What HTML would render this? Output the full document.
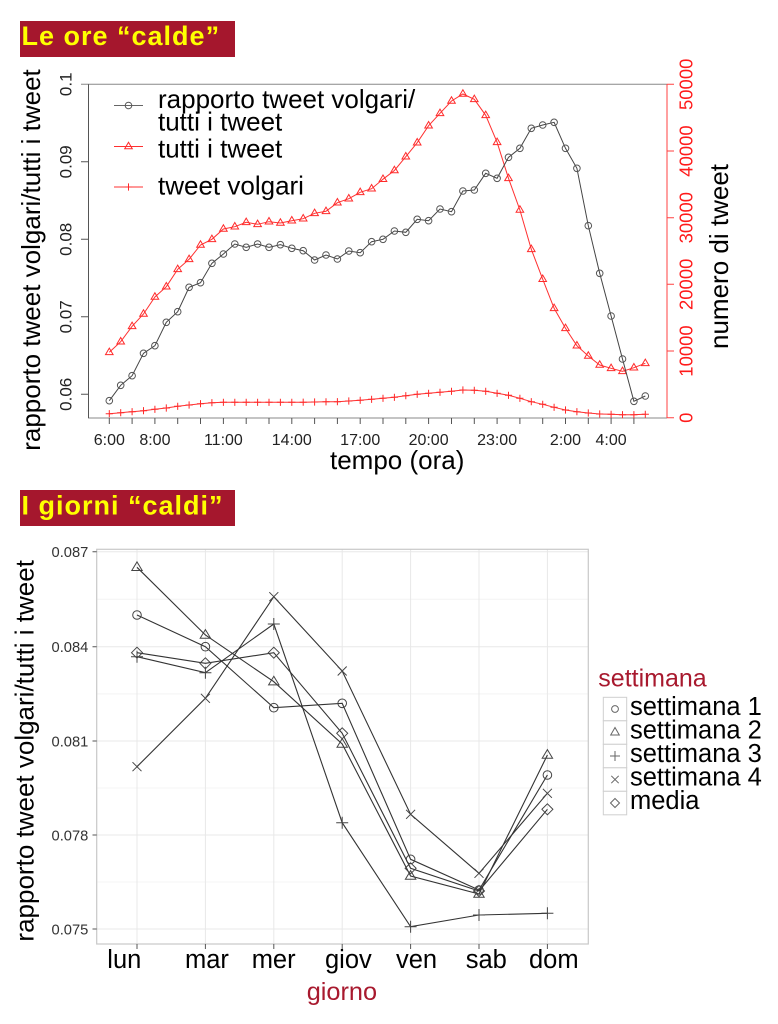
<!DOCTYPE html>
<html><head><meta charset="utf-8"><style>
html,body{margin:0;padding:0;background:#fff;}
svg{display:block;font-family:"Liberation Sans",Arial,sans-serif;}
</style></head><body>
<svg width="778" height="1024" viewBox="0 0 778 1024" xmlns="http://www.w3.org/2000/svg">
<defs>
<marker id="mc" markerWidth="12" markerHeight="12" refX="6" refY="6" markerUnits="userSpaceOnUse" overflow="visible"><circle cx="6" cy="6" r="3.3" fill="none" stroke="#555" stroke-width="1"/></marker>
<marker id="mt" markerWidth="12" markerHeight="12" refX="6" refY="6" markerUnits="userSpaceOnUse" overflow="visible"><path d="M6,1.8 L9.8,8.3 L2.2,8.3 Z" fill="none" stroke="#ff2a2a" stroke-width="1"/></marker>
<marker id="mp" markerWidth="12" markerHeight="12" refX="6" refY="6" markerUnits="userSpaceOnUse" overflow="visible"><path d="M2.4,6 H9.6 M6,2.4 V9.6" fill="none" stroke="#ff2a2a" stroke-width="1"/></marker>
<marker id="bc" markerWidth="14" markerHeight="14" refX="7" refY="7" markerUnits="userSpaceOnUse" overflow="visible"><circle cx="7" cy="7" r="4.3" fill="none" stroke="#444" stroke-width="1"/></marker>
<marker id="bt" markerWidth="14" markerHeight="14" refX="7" refY="7" markerUnits="userSpaceOnUse" overflow="visible"><path d="M7,1.6 L12.2,10.2 L1.8,10.2 Z" fill="none" stroke="#444" stroke-width="1"/></marker>
<marker id="bp" markerWidth="14" markerHeight="14" refX="7" refY="7" markerUnits="userSpaceOnUse" overflow="visible"><path d="M1,7 H13 M7,1 V13" fill="none" stroke="#444" stroke-width="1"/></marker>
<marker id="bx" markerWidth="14" markerHeight="14" refX="7" refY="7" markerUnits="userSpaceOnUse" overflow="visible"><path d="M2.5,2.5 L11.5,11.5 M11.5,2.5 L2.5,11.5" fill="none" stroke="#444" stroke-width="1"/></marker>
<marker id="bd" markerWidth="14" markerHeight="14" refX="7" refY="7" markerUnits="userSpaceOnUse" overflow="visible"><path d="M7,1.5 L12.5,7 L7,12.5 L1.5,7 Z" fill="none" stroke="#444" stroke-width="1"/></marker>
</defs>

<!-- Title 1 -->
<rect x="20" y="21" width="215" height="36" fill="#a5172d"/>
<text x="21.5" y="45" font-size="27" font-weight="bold" fill="#ffff00" letter-spacing="1">Le ore “calde”</text>

<!-- Top chart axes -->
<g stroke="#888" stroke-width="1" fill="none">
<line x1="81" y1="84.3" x2="667" y2="84.3"/>
<line x1="88" y1="418" x2="667" y2="418"/>
</g>
<g stroke="#555" stroke-width="1" fill="none">
<line x1="88.5" y1="84.3" x2="88.5" y2="418"/>
<path d="M81,161.8H88.5 M81,239.3H88.5 M81,316.8H88.5 M81,394.3H88.5"/>
<path d="M109.3,418v6 M132.1,418v6 M154.9,418v6 M177.7,418v6 M200.5,418v6 M223.4,418v6 M246.2,418v6 M269,418v6 M291.8,418v6 M314.6,418v6 M337.4,418v6 M360.2,418v6 M383,418v6 M405.8,418v6 M428.6,418v6 M451.5,418v6 M474.3,418v6 M497.1,418v6 M519.9,418v6 M542.7,418v6 M565.5,418v6 M588.3,418v6 M611.1,418v6 M633.9,418v6"/>
</g>
<g stroke="#ff4040" stroke-width="1" fill="none">
<line x1="667" y1="84.3" x2="667" y2="418"/>
<path d="M667,84.3H674 M667,151H674 M667,217.7H674 M667,284.3H674 M667,351H674 M667,417.7H674"/>
</g>

<!-- left tick labels -->
<g font-size="17" fill="#222" text-anchor="middle">
<text transform="translate(71.5,394.3) rotate(-90)">0.06</text>
<text transform="translate(71.5,316.8) rotate(-90)">0.07</text>
<text transform="translate(71.5,239.3) rotate(-90)">0.08</text>
<text transform="translate(71.5,161.8) rotate(-90)">0.09</text>
<text transform="translate(71.5,84.3) rotate(-90)">0.1</text>
</g>
<!-- right tick labels -->
<g font-size="18.5" fill="#ff1a1a" text-anchor="middle">
<text transform="translate(692.7,417.7) rotate(-90)">0</text>
<text transform="translate(692.7,351) rotate(-90)">10000</text>
<text transform="translate(692.7,284.3) rotate(-90)">20000</text>
<text transform="translate(692.7,217.7) rotate(-90)">30000</text>
<text transform="translate(692.7,151) rotate(-90)">40000</text>
<text transform="translate(692.7,84.3) rotate(-90)">50000</text>
</g>
<!-- x tick labels -->
<g font-size="16" fill="#222" text-anchor="middle">
<text x="109.3" y="445">6:00</text>
<text x="154.9" y="445">8:00</text>
<text x="223.4" y="445">11:00</text>
<text x="291.8" y="445">14:00</text>
<text x="360.2" y="445">17:00</text>
<text x="428.6" y="445">20:00</text>
<text x="497.1" y="445">23:00</text>
<text x="565.5" y="445">2:00</text>
<text x="611.1" y="445">4:00</text>
</g>
<text x="330" y="469" font-size="26" fill="#000">tempo (ora)</text>
<text transform="translate(40,260) rotate(-90)" text-anchor="middle" font-size="26" fill="#000">rapporto tweet volgari/tutti i tweet</text>
<text transform="translate(728,256.5) rotate(-90)" text-anchor="middle" font-size="26" fill="#000">numero di tweet</text>

<!-- series -->
<polyline fill="none" stroke="#ff3030" stroke-width="1" marker-start="url(#mp)" marker-mid="url(#mp)" marker-end="url(#mp)" points="109.3,413.7 120.7,412.7 132.1,411.7 143.5,410.7 154.9,409.3 166.3,408 177.7,406.3 189.1,405 200.5,403.7 211.9,402.7 223.4,402.3 234.8,402.3 246.2,402.3 257.6,402.3 269,402.3 280.4,402.3 291.8,402.3 303.2,402.2 314.6,402 326,401.8 337.4,401.7 348.8,401 360.2,400.3 371.6,399.3 383,398.3 394.4,397.3 405.8,395.7 417.2,394.3 428.6,393.3 440,392.3 451.5,391.3 462.9,390 474.3,390.3 485.7,391.3 497.1,393.3 508.5,395.3 519.9,398.3 531.3,401.7 542.7,404.3 554.1,407.3 565.5,410 576.9,411.7 588.3,413 599.7,414 611.1,414.3 622.5,414.7 633.9,414.7 645.3,414.3"/>
<polyline fill="none" stroke="#ff3030" stroke-width="1" marker-start="url(#mt)" marker-mid="url(#mt)" marker-end="url(#mt)" points="109.3,352.3 120.7,341.7 132.1,326.3 143.5,314 154.9,297 166.3,286.7 177.7,269.3 189.1,259.3 200.5,245 211.9,239.3 223.4,229 234.8,226.7 246.2,222.3 257.6,224.3 269,221.7 280.4,223 291.8,220.7 303.2,218.7 314.6,213.3 326,211.3 337.4,202.7 348.8,198.7 360.2,192.3 371.6,188.7 383,179.2 394.4,170.5 405.8,156.7 417.2,142.7 428.6,125.7 440,113.3 451.5,101 462.9,94 474.3,99.3 485.7,115.3 497.1,142.3 508.5,178.3 519.9,210 531.3,249.3 542.7,279.2 554.1,308.3 565.5,328.3 576.9,345.7 588.3,356 599.7,365 611.1,368.3 622.5,371.3 633.9,367.7 645.3,363.3"/>
<polyline fill="none" stroke="#444" stroke-width="1" marker-start="url(#mc)" marker-mid="url(#mc)" marker-end="url(#mc)" points="109.3,400.7 120.7,385.3 132.1,375.7 143.5,353.3 154.9,345.7 166.3,322.3 177.7,311.7 189.1,287.3 200.5,282.7 211.9,263.3 223.4,254 234.8,244 246.2,247.3 257.6,244 269,247.3 280.4,244.7 291.8,248.3 303.2,250.7 314.6,260 326,255 337.4,259 348.8,251 360.2,252.7 371.6,241.7 383,239.3 394.4,231 405.8,232.3 417.2,219.3 428.6,220.7 440,209 451.5,211.7 462.9,191 474.3,190 485.7,173.3 497.1,178.3 508.5,157.3 519.9,148.3 531.3,128.3 542.7,125 554.1,122.3 565.5,148.3 576.9,168.3 588.3,225.7 599.7,273.3 611.1,316 622.5,359 633.9,401.3 645.3,396"/>

<!-- top legend -->
<polyline fill="none" stroke="#666" stroke-width="1" marker-mid="url(#mc)" points="114,105.5 128.5,105.5 143,105.5"/>
<polyline fill="none" stroke="#ff3030" stroke-width="1" marker-mid="url(#mt)" points="114,146.5 128.5,146.5 143,146.5"/>
<polyline fill="none" stroke="#ff3030" stroke-width="1" marker-mid="url(#mp)" points="114,187 128.5,187 143,187"/>
<g font-size="26" fill="#000">
<text x="158" y="108">rapporto tweet volgari/</text>
<text x="158" y="130.5">tutti i tweet</text>
<text x="158" y="157.5">tutti i tweet</text>
<text x="158" y="194.5">tweet volgari</text>
</g>

<!-- Title 2 -->
<rect x="20" y="490" width="215" height="36" fill="#a5172d"/>
<text x="21.5" y="514.5" font-size="27" font-weight="bold" fill="#ffff00" letter-spacing="1">I giorni “caldi”</text>

<!-- Bottom chart panel -->
<rect x="96.7" y="549.3" width="491.6" height="394.7" fill="#fff"/>
<g stroke="#f4f4f4" stroke-width="1" fill="none">
<path d="M96.7,599.2H588.3 M96.7,693.9H588.3 M96.7,788H588.3 M96.7,882H588.3"/>
</g>
<g stroke="#e8e8e8" stroke-width="1" fill="none">
<path d="M96.7,551.7H588.3 M96.7,646.7H588.3 M96.7,741H588.3 M96.7,835H588.3 M96.7,929H588.3"/>
<path d="M137,549.3V944 M205.4,549.3V944 M273.8,549.3V944 M342.2,549.3V944 M410.6,549.3V944 M479,549.3V944 M547.4,549.3V944"/>
</g>
<rect x="96.7" y="549.3" width="491.6" height="394.7" fill="none" stroke="#c8c8c8" stroke-width="1.2"/>
<g stroke="#555" stroke-width="1" fill="none">
<path d="M92.5,551.7H96.7 M92.5,646.7H96.7 M92.5,741H96.7 M92.5,835H96.7 M92.5,929H96.7"/>
<path d="M137,944v5 M205.4,944v5 M273.8,944v5 M342.2,944v5 M410.6,944v5 M479,944v5 M547.4,944v5"/>
</g>
<g font-size="14.7" fill="#333" text-anchor="end">
<text x="88.3" y="557">0.087</text>
<text x="88.3" y="652">0.084</text>
<text x="88.3" y="746.3">0.081</text>
<text x="88.3" y="840.3">0.078</text>
<text x="88.3" y="934.3">0.075</text>
</g>
<g font-size="25.5" fill="#000">
<text x="107.3" y="968">lun</text>
<text x="185" y="968">mar</text>
<text x="251.7" y="968">mer</text>
<text x="325" y="968">giov</text>
<text x="396" y="968">ven</text>
<text x="465.7" y="968">sab</text>
<text x="529" y="968">dom</text>
</g>
<text x="306.7" y="1000" font-size="25.3" fill="#a8192e">giorno</text>
<text transform="translate(33.3,750.8) rotate(-90)" text-anchor="middle" font-size="26" fill="#000">rapporto tweet volgari/tutti i tweet</text>

<!-- bottom series -->
<g fill="none" stroke="#333" stroke-width="1.1">
<polyline marker-start="url(#bc)" marker-mid="url(#bc)" marker-end="url(#bc)" points="137,615 205.4,646.7 273.8,707.7 342.2,703.3 410.6,859.3 479,890 547.4,775"/>
<polyline marker-start="url(#bt)" marker-mid="url(#bt)" marker-end="url(#bt)" points="137,567.3 205.4,635 273.8,681.7 342.2,744 410.6,876 479,894 547.4,755"/>
<polyline marker-start="url(#bp)" marker-mid="url(#bp)" marker-end="url(#bp)" points="137,656.7 205.4,672.7 273.8,624 342.2,822.7 410.6,926.7 479,915 547.4,913.3"/>
<polyline marker-start="url(#bx)" marker-mid="url(#bx)" marker-end="url(#bx)" points="137,766.7 205.4,698.3 273.8,596.7 342.2,671 410.6,814.3 479,873.3 547.4,793.3"/>
<polyline marker-start="url(#bd)" marker-mid="url(#bd)" marker-end="url(#bd)" points="137,652.7 205.4,663.3 273.8,652.7 342.2,733.3 410.6,868.3 479,891 547.4,809.3"/>
</g>

<!-- bottom legend -->
<text x="598.3" y="686.7" font-size="25" fill="#a8192e">settimana</text>
<g fill="#fff" stroke="#cfcfcf" stroke-width="1">
<rect x="603.3" y="697.3" width="23.4" height="23.5"/>
<rect x="603.3" y="720.8" width="23.4" height="23.5"/>
<rect x="603.3" y="744.3" width="23.4" height="23.5"/>
<rect x="603.3" y="767.8" width="23.4" height="23.5"/>
<rect x="603.3" y="791.3" width="23.4" height="23.5"/>
</g>
<g fill="none" stroke="#666" stroke-width="1">
<circle cx="615" cy="709" r="3.4"/>
<path d="M615,727.5 L619.3,735 L610.7,735 Z"/>
<path d="M610,756H620 M615,751V761"/>
<path d="M611.3,775.8 L618.7,783.2 M618.7,775.8 L611.3,783.2"/>
<path d="M615,798.5 L619.5,803 L615,807.5 L610.5,803 Z"/>
</g>
<g font-size="25.5" fill="#000">
<text x="630" y="715">settimana 1</text>
<text x="630" y="738.5">settimana 2</text>
<text x="630" y="762">settimana 3</text>
<text x="630" y="785.5">settimana 4</text>
<text x="630" y="809">media</text>
</g>
</svg>
</body></html>
